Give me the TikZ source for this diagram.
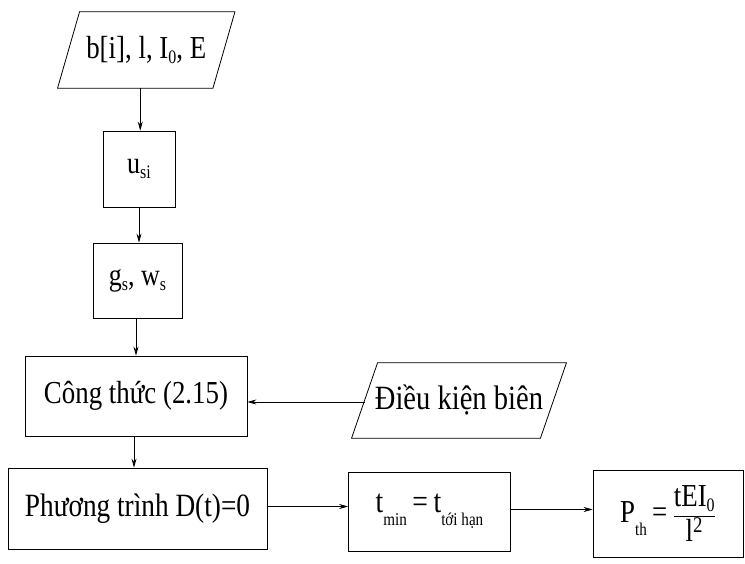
\documentclass[tikz,border=0pt]{standalone}
\usepackage{fontspec}
\setmainfont{Liberation Serif}[FakeStretch=0.84]
\usetikzlibrary{arrows.meta}
\newcommand{\lsub}[1]{\raisebox{-0.35ex}{\fontsize{19}{19}\selectfont #1}}
\newcommand{\dsub}[1]{\raisebox{-0.85ex}{\fontsize{18}{18}\selectfont #1}}
\tikzset{
  blk/.style={draw, line width=0.8pt, minimum width=#1, inner sep=0pt, font=\fontsize{31}{34}\selectfont},
  ghost/.style={minimum width=#1, inner sep=0pt, font=\fontsize{31}{34}\selectfont},
  pline/.style={line width=0.8pt, line join=miter},
  arr/.style={line width=0.7pt, -{Stealth[length=9pt, width=5pt, inset=3pt]}}
}
\begin{document}
\begin{tikzpicture}[x=1pt, y=-1pt]
\useasboundingbox (0,0) rectangle (745,564);
% nodes
\node[ghost=155pt, minimum height=76pt, font=\fontsize{32}{34}\selectfont] (in1) at (146.25,50) {b[i], l, I\lsub{0}, E};
\node[blk=72pt, minimum height=76pt] (usi) at (139,169) {u\lsub{si}};
\node[blk=89pt, minimum height=75pt] (gw) at (137.5,280.5) {g\lsub{s}, w\lsub{s}};
\node[blk=222pt, minimum height=80pt, font=\fontsize{32}{34}\selectfont] (ct) at (136,396) {Công thức (2.15)};
\node[ghost=188.5pt, minimum height=75pt, font=\fontsize{34}{36}\selectfont] (dk) at (459,400.5) {Điều kiện biên};
\node[blk=259pt, minimum height=81pt, font=\fontsize{32.5}{34}\selectfont] (pt) at (137.5,508.5) {Phương trình D(t)=0};
\node[blk=162pt, minimum height=79pt, font=\fontsize{33}{34}\selectfont] (tm) at (429.5,511.5) {t\dsub{min}\,=\,t\dsub{tới hạn}};
\node[blk=150pt, minimum height=87pt, font=\fontsize{32}{34}\selectfont] (pth) at (668,513.5) {P\dsub{th}\,=\,$\displaystyle\frac{\hbox{tEI\lsub{0}}}{\hbox{l\textsuperscript{2}}}$};
% parallelograms
\draw[pline] ([xshift=11pt]in1.north west) -- ([xshift=11pt]in1.north east) -- ([xshift=-11pt]in1.south east) -- ([xshift=-11pt]in1.south west) -- cycle;
\draw[pline] ([xshift=13pt]dk.north west) -- ([xshift=13pt]dk.north east) -- ([xshift=-13pt]dk.south east) -- ([xshift=-13pt]dk.south west) -- cycle;
% connectors
\draw[arr] ([xshift=-6pt]in1.south) -- ([xshift=-6pt]in1.south |- usi.north);
\draw[arr] (usi.south) -- (usi.south |- gw.north);
\draw[arr] ([xshift=-1.5pt]gw.south) -- ([xshift=-1.5pt]gw.south |- ct.north);
\draw[arr] ([xshift=-2pt]ct.south) -- ([xshift=-2pt]ct.south |- pt.north);
\draw[arr] ([yshift=-1.5pt]dk.west) -- ([yshift=-1.5pt]dk.west -| ct.east);
\draw[arr] ([yshift=2pt]pt.east) -- ([yshift=2pt]pt.east -| tm.west);
\draw[arr] ([yshift=2pt]tm.east) -- ([yshift=2pt]tm.east -| pth.west);
\end{tikzpicture}
\end{document}
